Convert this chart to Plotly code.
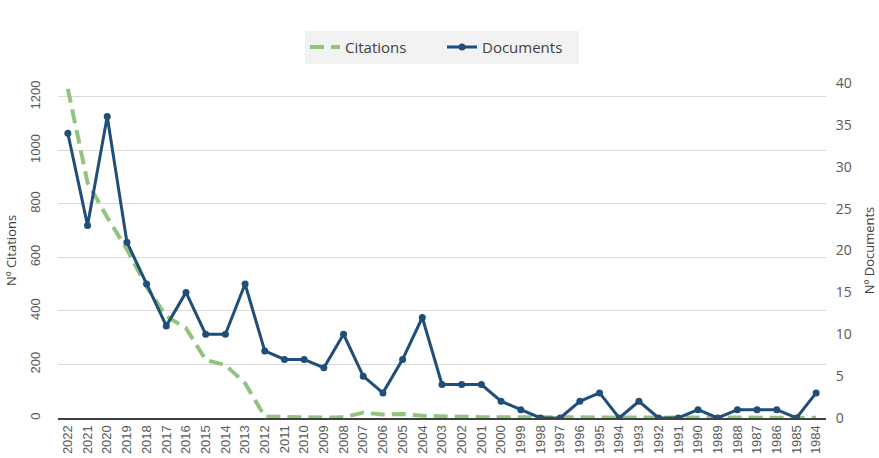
import plotly.graph_objects as go

years = [str(y) for y in range(2022, 1983, -1)]
documents = [34, 23, 36, 21, 16, 11, 15, 10, 10, 16, 8, 7, 7, 6, 10, 5, 3, 7, 12, 4, 4, 4, 2, 1, 0, 0, 2, 3, 0, 2, 0, 0, 1, 0, 1, 1, 1, 0, 3]
citations = [1230, 880, 750, 630, 490, 380, 336, 217, 198, 130, 5, 3, 3, 2, 3, 20, 13, 15, 8, 5, 5, 3, 3, 2, 1, 3, 4, 2, 1, 1, 1, 1, 1, 1, 1, 1, 1, 1, 1]

GREEN = "#93c47d"
BLUE = "#1f4e79"
GRAY = "#595959"

fig = go.Figure()
fig.add_trace(go.Scatter(x=years, y=citations, name="Citations", mode="lines",
                         line=dict(color=GREEN, width=4, dash="14px,7px"), yaxis="y"))
fig.add_trace(go.Scatter(x=years, y=documents, name="Documents", mode="lines+markers",
                         line=dict(color=BLUE, width=3), marker=dict(size=7, color=BLUE),
                         yaxis="y2"))

fig.update_layout(
    width=879, height=458,
    margin=dict(l=58, r=53, t=83, b=40, autoexpand=False),
    paper_bgcolor="white", plot_bgcolor="white",
    font=dict(family="Open Sans", color=GRAY, size=13),
    legend=dict(orientation="h", x=0.5, xanchor="center", y=1.107, yanchor="middle",
                bgcolor="#f2f2f2", font=dict(size=15, color="#404040"),
                entrywidth=92, entrywidthmode="pixels"),
    xaxis=dict(type="category", range=[-0.5, len(years) - 0.5], tickangle=-90,
               showgrid=False, showline=True,
               linecolor="#404040", linewidth=2, ticks="",
               tickfont=dict(family="Liberation Sans", size=13, color=GRAY),
               automargin=False),
    yaxis=dict(range=[0, 1252], tickvals=[0, 200, 400, 600, 800, 1000, 1200],
               tickangle=-90, showgrid=True, gridcolor="#d9d9d9", zeroline=False,
               showline=False, ticks="outside", ticklen=12, tickcolor="rgba(0,0,0,0)",
               tickfont=dict(family="Liberation Sans", size=13, color=GRAY),
               title=dict(text="Nº Citations", font=dict(size=13, color="#404040"), standoff=8),
               automargin=False),
    yaxis2=dict(range=[0, 40], dtick=5, overlaying="y", side="right", showgrid=False,
                zeroline=False, ticks="outside", ticklen=6, tickcolor="rgba(0,0,0,0)",
                tickfont=dict(family="Open Sans", size=14, color=GRAY),
                title=dict(text="Nº Documents", font=dict(size=13, color="#404040"), standoff=14),
                automargin=False),
)

fig.write_html("out.html", config={"displayModeBar": False},
               post_script="document.body.style.margin='0';")
